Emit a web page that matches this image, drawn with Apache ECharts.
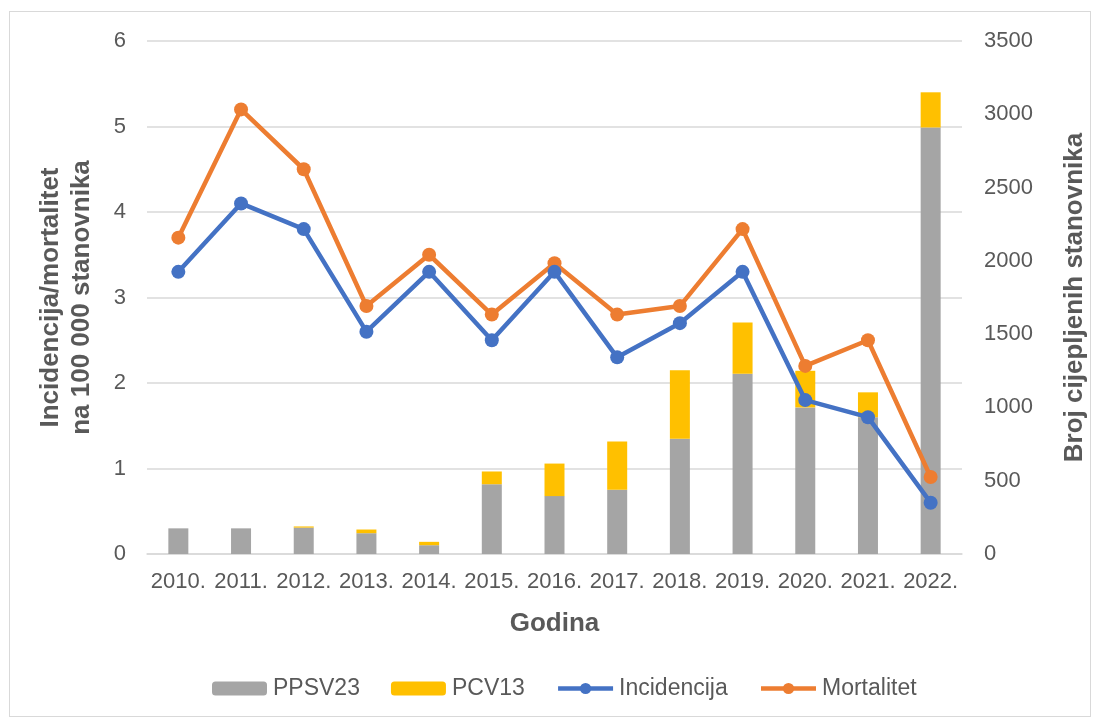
<!DOCTYPE html>
<html>
<head>
<meta charset="utf-8">
<script src="https://cdn.jsdelivr.net/npm/echarts@6/dist/echarts.min.js"></script>
<style>
  html, body { margin: 0; padding: 0; background: #fff; }
  #chart {
    position: absolute;
    left: 9px;
    top: 11px;
    width: 1082px;
    height: 706px;
    box-sizing: border-box;
    border: 1px solid #d9d9d9;
  }
</style>
</head>
<body>
<div id="chart"></div>
<script>
const years = ['2010.', '2011.', '2012.', '2013.', '2014.', '2015.', '2016.', '2017.', '2018.', '2019.', '2020.', '2021.', '2022.'];
const ppsv23 = [175, 175, 180, 142, 60, 476, 395, 438, 786, 1230, 1000, 933, 2910];
const pcv13 = [0, 0, 8, 25, 23, 87, 222, 330, 468, 350, 250, 170, 240];
const incidencija = [3.3, 4.1, 3.8, 2.6, 3.3, 2.5, 3.3, 2.3, 2.7, 3.3, 1.8, 1.6, 0.6];
const mortalitet = [3.7, 5.2, 4.5, 2.9, 3.5, 2.8, 3.4, 2.8, 2.9, 3.8, 2.2, 2.5, 0.9];

const font = 'Liberation Sans, Arial, sans-serif';
const textColor = '#595959';

const chart = echarts.init(document.getElementById('chart'));

chart.setOption({
  animation: false,
  textStyle: { fontFamily: font },
  grid: {
    left: 137,
    right: 128,
    top: 29,
    bottom: 162,
    containLabel: false,
    outerBoundsMode: 'none'
  },
  legend: {
    top: 665,
    left: 202,
    padding: 0,
    itemGap: 31,
    itemWidth: 55,
    itemHeight: 14,
    lineStyle: { width: 4.5 },
    textStyle: { fontSize: 23, color: textColor, fontFamily: font, padding: [0, 0, 0, 1] },
    data: ['PPSV23', 'PCV13', 'Incidencija', 'Mortalitet']
  },
  xAxis: {
    type: 'category',
    data: years,
    name: 'Godina',
    nameLocation: 'middle',
    nameGap: 57,
    nameTextStyle: { fontSize: 26, fontWeight: 'bold', color: textColor },
    axisTick: { show: false },
    axisLine: { lineStyle: { color: '#d9d9d9', width: 1.5 } },
    axisLabel: { fontSize: 22, color: textColor, margin: 17, interval: 0 }
  },
  yAxis: [
    {
      type: 'value',
      min: 0,
      max: 6,
      interval: 1,
      name: 'Incidencija/mortalitet\nna 100 000 stanovnika',
      nameLocation: 'middle',
      nameGap: 50,
      nameTextStyle: { fontSize: 26, fontWeight: 'bold', color: textColor, lineHeight: 31 },
      axisLine: { show: false },
      axisTick: { show: false },
      axisLabel: { fontSize: 22, color: textColor, margin: 21 },
      splitLine: { lineStyle: { color: '#d9d9d9', width: 1.5 } }
    },
    {
      type: 'value',
      min: 0,
      max: 3500,
      interval: 500,
      name: 'Broj cijepljenih stanovnika',
      nameLocation: 'middle',
      nameGap: 100,
      nameTextStyle: { fontSize: 26, fontWeight: 'bold', color: textColor },
      axisLine: { show: false },
      axisTick: { show: false },
      axisLabel: { fontSize: 22, color: textColor, margin: 22, formatter: v => String(v) },
      splitLine: { show: false }
    }
  ],
  series: [
    {
      name: 'PPSV23',
      type: 'bar',
      stack: 'cijepljeni',
      yAxisIndex: 1,
      barWidth: 20,
      itemStyle: { color: '#a5a5a5' },
      data: ppsv23
    },
    {
      name: 'PCV13',
      type: 'bar',
      stack: 'cijepljeni',
      yAxisIndex: 1,
      barWidth: 20,
      itemStyle: { color: '#ffc000' },
      data: pcv13
    },
    {
      name: 'Incidencija',
      type: 'line',
      yAxisIndex: 0,
      symbol: 'circle',
      symbolSize: 14,
      lineStyle: { color: '#4472c4', width: 4.5 },
      itemStyle: { color: '#4472c4' },
      z: 5,
      data: incidencija
    },
    {
      name: 'Mortalitet',
      type: 'line',
      yAxisIndex: 0,
      symbol: 'circle',
      symbolSize: 14,
      lineStyle: { color: '#ed7d31', width: 4.5 },
      itemStyle: { color: '#ed7d31' },
      z: 4,
      data: mortalitet
    }
  ]
});
</script>
</body>
</html>
